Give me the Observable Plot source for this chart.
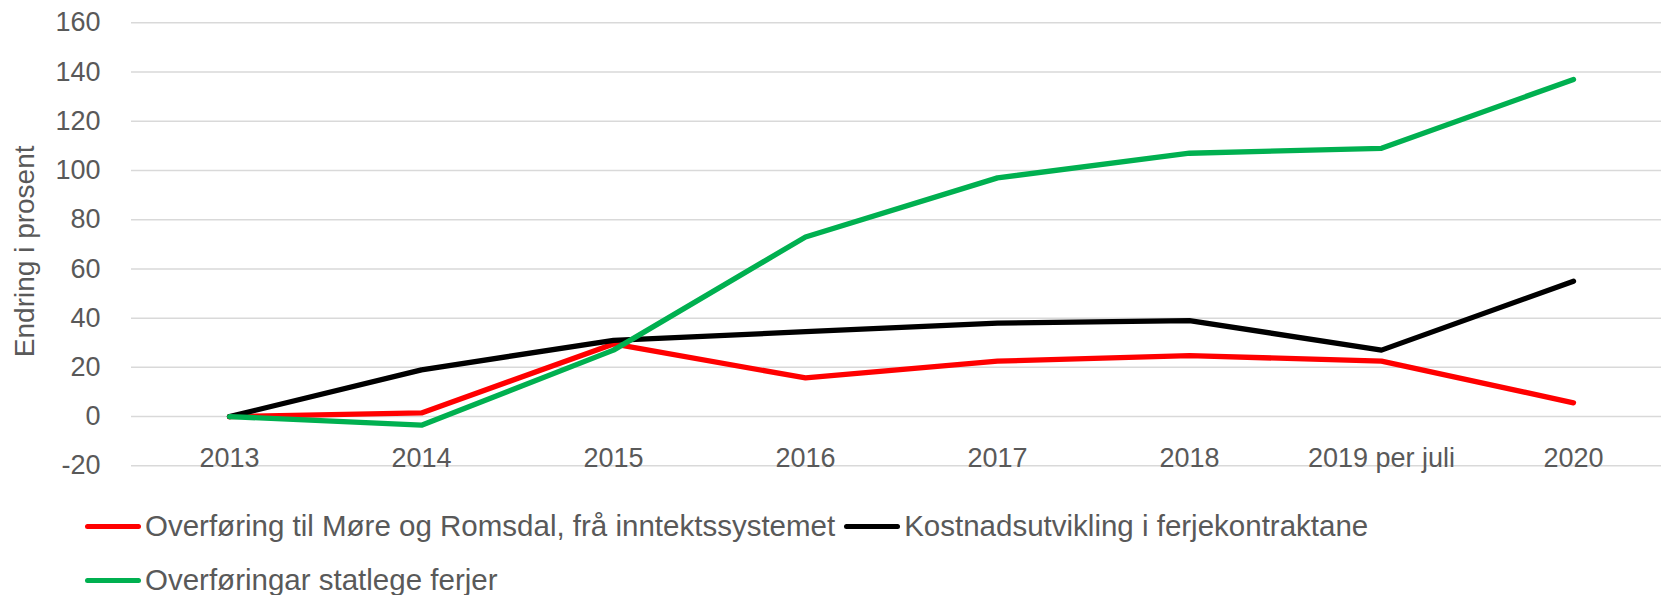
<!DOCTYPE html>
<html><head><meta charset="utf-8">
<script src="https://cdn.jsdelivr.net/npm/d3@7"></script>
<script src="https://cdn.jsdelivr.net/npm/@observablehq/plot@0.6"></script>
<style>
body{margin:0;background:#fff;font-family:"Liberation Sans",Arial,sans-serif;color:#595959}
#legend{display:flex;flex-wrap:wrap;width:1450px;margin-left:85px;padding-top:31px;row-gap:24px;font-size:29.5px;line-height:30px}
.item{display:flex;align-items:center;margin-right:9px}
.sw{display:inline-block;width:56px;height:5px;border-radius:3px;margin-right:4px}
</style></head><body><div id="chart"></div><div id="legend"></div>
<script>
const years = ["2013","2014","2015","2016","2017","2018","2019 per juli","2020"];
const overforingMR = [0, 1.5, 29.5, 15.7, 22.5, 24.8, 22.5, 5.6];
const kostnad = [0, 19, 31, 34.5, 38, 39, 27, 55];
const statlege = [0, -3.5, 27, 73, 97, 107, 109, 137];
const seriesNames = ["Overføring til Møre og Romsdal, frå inntektssystemet", "Kostnadsutvikling i ferjekontraktane", "Overføringar statlege ferjer"];
const seriesValues = [overforingMR, kostnad, statlege];
const seriesColors = ["#FF0000", "#000000", "#00B050"];
const yTicks = [-20, 0, 20, 40, 60, 80, 100, 120, 140, 160];
const yLabel = "Endring i prosent";

const data = seriesNames.flatMap((s, i) => years.map((y, j) => ({series: s, year: y, value: seriesValues[i][j]})));

const chart = Plot.plot({
  width: 1661, height: 480,
  marginTop: 22.3, marginBottom: 14.7, marginLeft: 131, marginRight: 0,
  style: {fontFamily: "Liberation Sans, Arial, sans-serif", fontSize: "27px", color: "#595959", background: "white"},
  x: {type: "point", domain: years, range: [226, 1575], padding: 0},
  y: {domain: [-20, 160]},
  color: {domain: seriesNames, range: seriesColors},
  marks: [
    Plot.ruleY(yTicks, {stroke: "#D9D9D9", strokeWidth: 1.5}),
    Plot.axisY(yTicks, {tickSize: 0, tickPadding: 31, label: null, tickFormat: d => String(d), fill: "#595959"}),
    Plot.text([yLabel], {frameAnchor: "left", textAnchor: "middle", lineAnchor: "middle", rotate: -90, dx: -106, dy: 7, fontSize: 28, fill: "#595959"}),
    Plot.axisX({tickSize: 0, tickPadding: 0, dy: -18, label: null, fill: "#595959"}),
    Plot.line(data, {x: "year", y: "value", z: "series", stroke: "series", strokeWidth: 5.3, strokeLinecap: "round", strokeLinejoin: "round"})
  ]
});
document.getElementById("chart").appendChild(chart);

const legend = document.getElementById("legend");
seriesNames.forEach((name, i) => {
  const item = document.createElement("div");
  item.className = "item";
  const sw = document.createElement("span");
  sw.className = "sw";
  sw.style.background = seriesColors[i];
  const t = document.createElement("span");
  t.textContent = name;
  item.appendChild(sw); item.appendChild(t);
  legend.appendChild(item);
});
</script></body></html>
